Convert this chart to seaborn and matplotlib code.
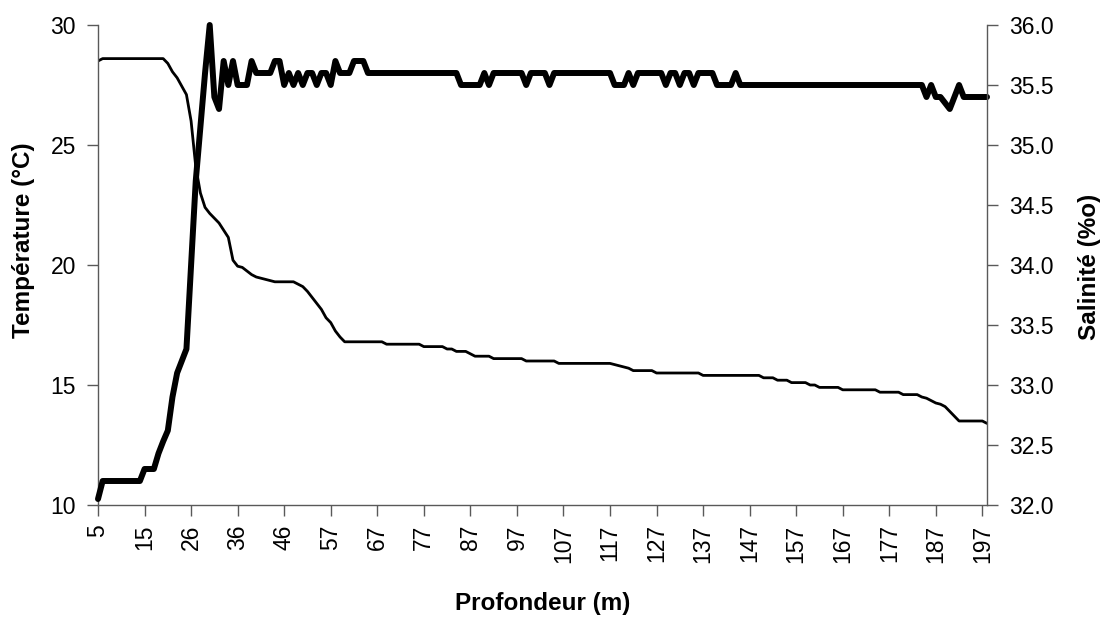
import numpy as np
import pandas as pd
import matplotlib
matplotlib.use("Agg")
import matplotlib.pyplot as plt
import seaborn as sns

# depth tick labels (every 10th category of the Excel category axis)
depth_labels = ["5", "15", "26", "36", "46", "57", "67", "77", "87", "97",
                "107", "117", "127", "137", "147", "157", "167", "177", "187", "197"]

# temperature (°C), one value per depth category
temperature = [
    28.5, 28.6, 28.6, 28.6, 28.6, 28.6, 28.6, 28.6, 28.6, 28.6, 28.6, 28.6, 28.6, 28.6, 28.6,
    28.4, 28.05, 27.8, 27.45, 27.1, 26.0, 24.1, 23.0, 22.4, 22.15, 21.95, 21.75,
    21.45, 21.15, 20.2, 19.95, 19.9, 19.75, 19.6, 19.5, 19.45, 19.4, 19.35,
    19.3, 19.3, 19.3, 19.3, 19.3, 19.2, 19.1, 18.9, 18.65, 18.4, 18.15, 17.8, 17.6, 17.25, 17.0,
    16.8, 16.8, 16.8, 16.8, 16.8, 16.8, 16.8, 16.8, 16.8,
    16.7, 16.7, 16.7, 16.7, 16.7, 16.7, 16.7, 16.7,
    16.6, 16.6, 16.6, 16.6, 16.6, 16.5, 16.5, 16.4, 16.4, 16.4, 16.3,
    16.2, 16.2, 16.2, 16.2, 16.1, 16.1, 16.1, 16.1, 16.1, 16.1, 16.1,
    16.0, 16.0, 16.0, 16.0, 16.0, 16.0, 16.0,
    15.9, 15.9, 15.9, 15.9, 15.9, 15.9, 15.9, 15.9, 15.9, 15.9, 15.9, 15.9,
    15.85, 15.8, 15.75, 15.7, 15.6, 15.6, 15.6, 15.6, 15.6,
    15.5, 15.5, 15.5, 15.5, 15.5, 15.5, 15.5, 15.5, 15.5, 15.5,
    15.4, 15.4, 15.4, 15.4, 15.4, 15.4, 15.4, 15.4, 15.4, 15.4, 15.4, 15.4, 15.4,
    15.3, 15.3, 15.3, 15.2, 15.2, 15.2, 15.1, 15.1, 15.1, 15.1, 15.0, 15.0,
    14.9, 14.9, 14.9, 14.9, 14.9, 14.8, 14.8, 14.8, 14.8, 14.8, 14.8, 14.8, 14.8,
    14.7, 14.7, 14.7, 14.7, 14.7, 14.6, 14.6, 14.6, 14.6,
    14.5, 14.45, 14.35, 14.25, 14.2, 14.1, 13.9, 13.7,
    13.5, 13.5, 13.5, 13.5, 13.5, 13.5, 13.4,
]

# salinity (%o), same depth categories
salinity = [
    32.05, 32.2, 32.2, 32.2, 32.2, 32.2, 32.2, 32.2, 32.2, 32.2,
    32.3, 32.3, 32.3, 32.43, 32.53, 32.62, 32.9, 33.1, 33.2, 33.3,
    34.0, 34.7, 35.15, 35.6, 36.0,
    35.4, 35.3, 35.7, 35.5, 35.7, 35.5, 35.5, 35.5, 35.7,
    35.6, 35.6, 35.6, 35.6, 35.7, 35.7,
    35.5, 35.6, 35.5, 35.6, 35.5, 35.6, 35.6, 35.5, 35.6, 35.6, 35.5,
    35.7, 35.6, 35.6, 35.6, 35.7, 35.7, 35.7,
    35.6, 35.6, 35.6, 35.6, 35.6, 35.6, 35.6, 35.6, 35.6, 35.6,
    35.6, 35.6, 35.6, 35.6, 35.6, 35.6, 35.6, 35.6, 35.6, 35.6,
    35.5, 35.5, 35.5, 35.5, 35.5, 35.6, 35.5,
    35.6, 35.6, 35.6, 35.6, 35.6, 35.6, 35.6, 35.5,
    35.6, 35.6, 35.6, 35.6, 35.5,
    35.6, 35.6, 35.6, 35.6, 35.6, 35.6, 35.6, 35.6, 35.6, 35.6, 35.6, 35.6, 35.6,
    35.5, 35.5, 35.5, 35.6, 35.5,
    35.6, 35.6, 35.6, 35.6, 35.6, 35.6,
    35.5, 35.6, 35.6, 35.5, 35.6, 35.6, 35.5,
    35.6, 35.6, 35.6, 35.6, 35.5, 35.5, 35.5, 35.5, 35.6,
    35.5, 35.5, 35.5, 35.5, 35.5, 35.5, 35.5, 35.5, 35.5, 35.5,
    35.5, 35.5, 35.5, 35.5, 35.5, 35.5, 35.5, 35.5, 35.5, 35.5,
    35.5, 35.5, 35.5, 35.5, 35.5, 35.5, 35.5, 35.5, 35.5, 35.5,
    35.5, 35.5, 35.5, 35.5, 35.5, 35.5, 35.5, 35.5, 35.5, 35.5,
    35.4, 35.5, 35.4, 35.4, 35.35, 35.3, 35.4, 35.5,
    35.4, 35.4, 35.4, 35.4, 35.4, 35.4,
]

temp_ticks = [10, 15, 20, 25, 30]
sal_ticks = [32.0, 32.5, 33.0, 33.5, 34.0, 34.5, 35.0, 35.5, 36.0]

sns.set_theme(style="ticks")
plt.rcParams["font.family"] = ["Liberation Sans", "DejaVu Sans"]
plt.rcParams["text.color"] = "black"
plt.rcParams["axes.labelcolor"] = "black"

AXC = "#595959"
TICK_FS = 16.5
LABEL_FS = 17.5

df = pd.DataFrame({"pos": np.arange(len(temperature)),
                   "temp": temperature, "sal": salinity})

fig = plt.figure(figsize=(11.09, 6.2), dpi=100)
ax = fig.add_axes([98 / 1109, 1 - 505 / 620, 889 / 1109, 480 / 620])
ax2 = ax.twinx()

sns.lineplot(data=df, x="pos", y="temp", ax=ax, color="black", linewidth=2.0)
sns.lineplot(data=df, x="pos", y="sal", ax=ax2, color="black", linewidth=4.3,
             clip_on=False)

ax.set_xlim(0, len(temperature) - 1)
ax.set_ylim(10, 30)
ax2.set_ylim(32, 36)

ax.set_xticks(np.arange(0, len(temperature), 10))
ax.set_xticklabels(depth_labels, rotation=90)
ax.set_yticks(temp_ticks)
ax.set_yticklabels([str(v) for v in temp_ticks])
ax2.set_yticks(sal_ticks)
ax2.set_yticklabels([f"{v:.1f}" for v in sal_ticks])

for a in (ax, ax2):
    a.spines["top"].set_visible(False)
    for s in a.spines.values():
        s.set_color(AXC)
        s.set_linewidth(1.0)
    a.tick_params(direction="out", length=8, width=1, color=AXC,
                  labelsize=TICK_FS, labelcolor="black", pad=8)
ax.spines["right"].set_visible(False)
ax2.spines["left"].set_visible(False)
ax2.spines["bottom"].set_visible(False)
ax.tick_params(axis="x", pad=6)

ax.set_xlabel("Profondeur (m)", fontsize=LABEL_FS, fontweight="bold", color="black")
ax.xaxis.set_label_coords(0.5, -0.181)
ax.set_ylabel("Température (°C)", fontsize=LABEL_FS, fontweight="bold", color="black")
ax.yaxis.set_label_coords(-0.071, 0.552)
ax2.set_ylabel("Salinité (%o)", fontsize=LABEL_FS, fontweight="bold", color="black")
ax2.yaxis.set_label_coords(1.102, 0.496)

fig.savefig("out.png", dpi=100)
